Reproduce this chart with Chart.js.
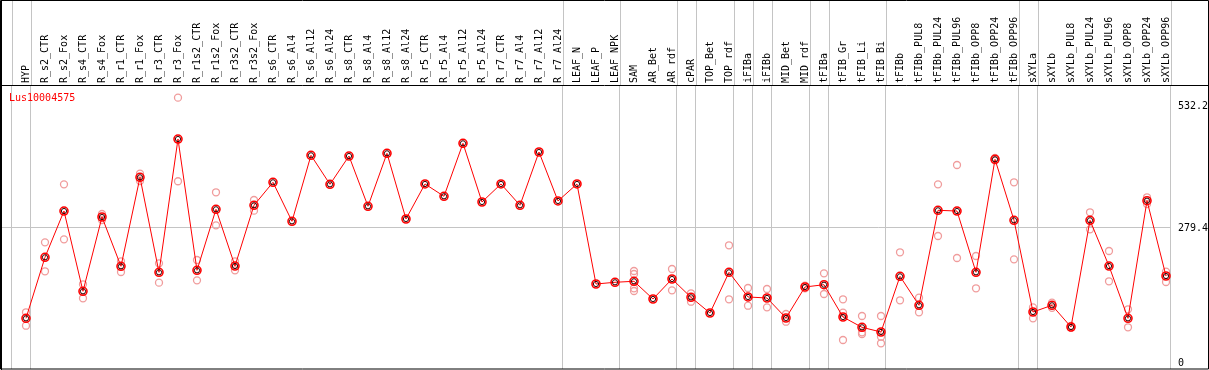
<!DOCTYPE html>
<html>
<head>
<meta charset="utf-8">
<title>Lus10004575</title>
<script src="https://cdn.jsdelivr.net/npm/chart.js@4.4.1/dist/chart.umd.min.js"></script>
<style>
  html, body { margin: 0; padding: 0; background: #fff; }
  canvas { display: block; }
</style>
</head>
<body>
<canvas id="exprChart" width="1209" height="370"></canvas>
<script>
/* ── Data ─────────────────────────────────── */
const geneName = 'Lus10004575';

const samples = [
  'HYP', 'R_s2_CTR', 'R_s2_Fox', 'R_s4_CTR', 'R_s4_Fox', 'R_r1_CTR', 'R_r1_Fox', 'R_r3_CTR', 'R_r3_Fox',
  'R_r1s2_CTR', 'R_r1s2_Fox', 'R_r3s2_CTR', 'R_r3s2_Fox', 'R_s6_CTR', 'R_s6_Al4', 'R_s6_Al12', 'R_s6_Al24',
  'R_s8_CTR', 'R_s8_Al4', 'R_s8_Al12', 'R_s8_Al24', 'R_r5_CTR', 'R_r5_Al4', 'R_r5_Al12', 'R_r5_Al24',
  'R_r7_CTR', 'R_r7_Al4', 'R_r7_Al12', 'R_r7_Al24', 'LEAF_N', 'LEAF_P', 'LEAF_NPK', 'SAM', 'AR_Bet', 'AR_rdf',
  'cPAR', 'TOP_Bet', 'TOP_rdf', 'iFIBa', 'iFIBb', 'MID_Bet', 'MID_rdf', 'tFIBa', 'tFIB_Gr', 'tFIB_Li', 'tFIB_Bi',
  'tFIBb', 'tFIBb_PUL8', 'tFIBb_PUL24', 'tFIBb_PUL96', 'tFIBb_OPP8', 'tFIBb_OPP24', 'tFIBb_OPP96',
  'sXYLa', 'sXYLb', 'sXYLb_PUL8', 'sXYLb_PUL24', 'sXYLb_PUL96', 'sXYLb_OPP8', 'sXYLb_OPP24', 'sXYLb_OPP96'
];

// samples per block, blocks are split by the grey vertical lines
const groupSizes = [1, 28, 3, 3, 1, 2, 1, 1, 2, 1, 3, 7, 1, 7];

const meanExpr = [
  91.9, 218.3, 314.1, 147.9, 301.7, 199.6, 383.9, 187.2, 463.2, 191.3,
  317.7, 200.2, 326.0, 373.6, 292.8, 429.5, 369.4, 428.0, 323.9, 433.6,
  297.6, 370.1, 344.6, 454.3, 332.8, 370.1, 326.0, 436.3, 334.9, 370.1,
  163.0, 166.5, 168.6, 131.9, 173.3, 135.4, 102.9, 187.2, 136.1, 134.0,
  92.6, 156.8, 161.5, 94.6, 73.3, 63.6, 178.9, 118.9, 315.6, 314.1,
  187.2, 421.2, 294.9, 105.0, 118.9, 73.9, 294.9, 200.2, 91.9, 335.5, 179.5
];

const repA = [
  104.4, 249.3, 369.4, 162.4, 307.9, 210.0, 391.4, 205.8, 548.8, 212.7,
  352.9, 210.0, 336.9, null, null, null, null, null, null, null,
  null, null, null, null, null, null, null, null, null, null,
  null, null, 189.9, null, 194.0, 143.7, null, 243.1, 154.7, 152.6,
  100.8, 159.5, 185.1, 131.3, 96.7, 96.7, 228.6, 134.6, 369.4, 409.4,
  221.0, 424.0, 373.6, 114.7, 124.2, 76.0, 311.5, 231.3, 110.6, 342.5, 188.4
];

const repB = [
  76.6, 189.3, 255.5, 133.4, 295.5, 187.8, 376.3, 165.7, 375.7, 170.6,
  284.5, 191.3, 314.8, null, null, null, null, null, null, null,
  null, null, null, null, null, null, null, null, null, null,
  null, null, 183.7, null, 149.9, 126.3, null, 131.3, 118.0, 114.7,
  84.9, 154.0, 142.3, 103.5, 63.0, 53.8, 129.2, 104.4, 262.4, 216.8,
  154.1, 419.0, 214.1, 91.9, 113.6, 72.0, 276.2, 168.6, 73.3, 328.5, 167.1
];

const repC = [
  null, null, null, null, null, null, null, null, null, null,
  null, null, null, null, null, null, null, null, null, null,
  null, null, null, null, null, null, null, null, null, null,
  null, null, 154.1, null, null, null, null, null, null, null,
  null, null, null, 47.0, 59.4, 40.2, null, null, null, null,
  null, null, null, null, null, null, null, null, null, null, null
];

const repD = [
  null, null, null, null, null, null, null, null, null, null,
  null, null, null, null, null, null, null, null, null, null,
  null, null, null, null, null, null, null, null, null, null,
  null, null, 148.5, null, null, null, null, null, null, null,
  null, null, null, null, null, null, null, null, null, null,
  null, null, null, null, null, null, null, null, null, null, null
];

const yTickValues = [0, 279.4, 532.2];

/* ── Helpers ──────────────────────────────── */
const MONO = "'DejaVu Sans Mono', 'Liberation Mono', monospace";
const GRID = '#c4c4c4';
const X_MIN = -0.368, X_MAX = 61.263;
const Y_MIN = -13.05, Y_MAX = 573.0;

const toPoints = arr => arr.map((v, i) => ({ x: i + 1, y: v }));

const groupBreaks = [0.25];
groupSizes.reduce((acc, n) => { acc += n; groupBreaks.push(acc + 0.25); return acc; }, 0);

// stop Chart.js from reserving room for half-labels at the ends
const noPad = s => { s.paddingLeft = s.paddingRight = s.paddingTop = s.paddingBottom = 0; };

const repStyle = {
  showLine: false,
  pointStyle: 'circle',
  pointRadius: 3.5,
  pointBorderWidth: 1.3,
  pointBorderColor: '#f09c9c',
  pointBackgroundColor: 'rgba(0,0,0,0)',
  order: 5,
};

/* ── Frame / separators / gene label ──────── */
const framePlugin = {
  id: 'frame',
  beforeDatasetsDraw(chart) {
    const { ctx, chartArea, scales } = chart;
    ctx.save();
    ctx.strokeStyle = GRID;
    ctx.lineWidth = 1;
    groupBreaks.forEach(b => {
      const px = Math.round(scales.x.getPixelForValue(b)) + 0.5;
      ctx.beginPath();
      ctx.moveTo(px, 0);
      ctx.lineTo(px, chartArea.top);
      ctx.stroke();
    });
    ctx.restore();
  },
  afterDraw(chart) {
    const { ctx, chartArea, width, height } = chart;
    ctx.save();
    ctx.strokeStyle = '#000';
    ctx.lineWidth = 1;
    ctx.beginPath();
    ctx.rect(0.5, 0.5, width - 1, height - 1.5);
    ctx.moveTo(1.5, 0); ctx.lineTo(1.5, height);
    ctx.moveTo(0, chartArea.top - 0.5); ctx.lineTo(width, chartArea.top - 0.5);
    ctx.stroke();

    ctx.fillStyle = '#ff0000';
    ctx.font = '10px ' + MONO;
    ctx.textBaseline = 'middle';
    ctx.textAlign = 'left';
    ctx.fillText(geneName, 9, chartArea.top + 12);
    ctx.restore();
  },
};

/* ── Chart ────────────────────────────────── */
new Chart(document.getElementById('exprChart'), {
  type: 'line',
  data: {
    datasets: [
      {
        label: 'mean',
        data: toPoints(meanExpr),
        borderColor: '#ff0000',
        borderWidth: 1,
        tension: 0,
        pointStyle: 'circle',
        pointRadius: 4,
        pointBorderWidth: 1.6,
        pointBorderColor: '#ff0000',
        pointBackgroundColor: 'rgba(0,0,0,0)',
        order: 1,
      },
      {
        label: 'mean-core',
        data: toPoints(meanExpr),
        showLine: false,
        pointStyle: 'circle',
        pointRadius: 2.6,
        pointBorderWidth: 1,
        pointBorderColor: '#300000',
        pointBackgroundColor: 'rgba(0,0,0,0)',
        order: 0,
      },
      { label: 'rep1', data: toPoints(repA), ...repStyle },
      { label: 'rep2', data: toPoints(repB), ...repStyle },
      { label: 'rep3', data: toPoints(repC), ...repStyle },
      { label: 'rep4', data: toPoints(repD), ...repStyle },
    ],
  },
  options: {
    responsive: false,
    animation: false,
    layout: { padding: 0, autoPadding: false },
    plugins: {
      legend: { display: false },
      tooltip: { enabled: false },
    },
    scales: {
      x: {
        type: 'linear',
        position: 'bottom',
        min: X_MIN,
        max: X_MAX,
        afterBuildTicks: s => { s.ticks = groupBreaks.map(v => ({ value: v })); },
        afterFit: s => { s.height = 1; noPad(s); },
        ticks: { display: false },
        grid: { color: GRID, lineWidth: 1, drawTicks: false },
        border: { display: false },
      },
      top: {
        type: 'linear',
        position: 'top',
        min: X_MIN,
        max: X_MAX,
        afterBuildTicks: s => { s.ticks = samples.map((_, i) => ({ value: i + 1 })); },
        afterFit: s => { s.height = 86; noPad(s); },
        ticks: {
          autoSkip: false,
          minRotation: 90,
          maxRotation: 90,
          padding: 3,
          labelOffset: 12.5,
          color: '#000',
          font: { family: MONO, size: 10 },
          callback: v => samples[v - 1],
        },
        grid: { display: false, drawTicks: false },
        border: { display: false },
      },
      y: {
        type: 'linear',
        position: 'right',
        min: Y_MIN,
        max: Y_MAX,
        afterBuildTicks: s => { s.ticks = yTickValues.map(v => ({ value: v })); },
        afterFit: s => { s.width = 38; noPad(s); },
        ticks: {
          padding: 7,
          labelOffset: 1,
          color: '#000',
          font: { family: MONO, size: 10 },
          callback: v => (v === 0 ? '0' : v.toFixed(1)),
        },
        grid: {
          drawTicks: false,
          color: c => (c.tick && c.tick.value === 279.4 ? GRID : 'rgba(0,0,0,0)'),
        },
        border: { display: false },
      },
    },
  },
  plugins: [framePlugin],
});
</script>
</body>
</html>
